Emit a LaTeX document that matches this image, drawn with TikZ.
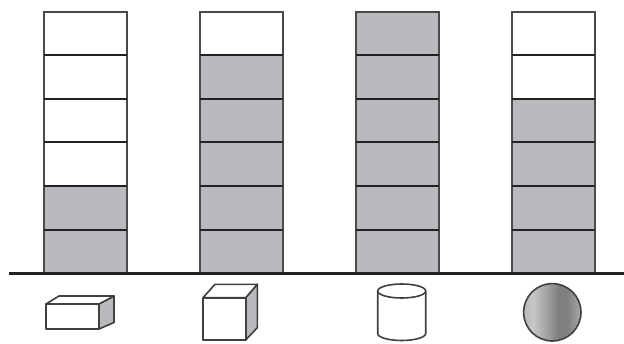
\documentclass[tikz,border=0pt]{standalone}
\definecolor{cellgrey}{HTML}{B9BABD}
\definecolor{edgedark}{HTML}{222222}
\definecolor{edgeside}{HTML}{4A4A4A}
\definecolor{shapeedge}{HTML}{404040}
\pgfdeclarehorizontalshading{ballshade}{100bp}{
  color(0bp)=(white!72!black);
  color(25bp)=(white!72!black);
  color(33bp)=(white!78!black);
  color(44bp)=(white!65!black);
  color(55bp)=(white!50!black);
  color(63bp)=(white!50!black);
  color(75bp)=(white!66!black);
  color(100bp)=(white!66!black)}
\tikzset{
  fullcell/.style={fill=cellgrey},
  sideline/.style={draw=edgeside,line width=1.7pt},
  rowline/.style={draw=edgedark,line width=1.9pt},
  groundline/.style={draw=edgedark,line width=2.2pt},
  solidedge/.style={draw=shapeedge,line width=1.6pt,line join=round},
}
\newcommand{\stackcol}[2]{% left x, number of filled cells
  \foreach \r [count=\i from 0] in {230,186,142,99,55,12}{
    \ifnum\i<#2\relax
      \fill[fullcell] (#1,\r) rectangle ({#1+83},{\r+44});
    \fi
  }
  \draw[sideline] (#1,12) -- (#1,273);
  \draw[sideline] ({#1+83},12) -- ({#1+83},273);
  \draw[sideline] ({#1-0.8},12) -- ({#1+83.8},12);
  \foreach \r in {55,99,142,186,230}{
    \draw[rowline] (#1,\r) -- ({#1+83},\r);
  }
}
\begin{document}
\begin{tikzpicture}[x=1pt,y=-1pt]
\useasboundingbox (0,0) rectangle (624,343);
\stackcol{44}{2}
\stackcol{200}{5}
\stackcol{356}{6}
\stackcol{512}{4}
\draw[groundline] (9,273.5) -- (624,273.5);
% flat box
\filldraw[solidedge,fill=cellgrey] (99,304) -- (114,296) -- (114,322.5) -- (99,329) -- cycle;
\filldraw[solidedge,fill=white] (46,304) -- (59,296) -- (114,296) -- (99,304) -- cycle;
\filldraw[solidedge,fill=white] (46,304) rectangle (99,329);
% cube
\filldraw[solidedge,fill=cellgrey] (245.7,297.7) -- (257.3,284.3) -- (257.3,327.7) -- (245.7,340) -- cycle;
\filldraw[solidedge,fill=white] (203,297.7) -- (215,284.3) -- (257.3,284.3) -- (245.7,297.7) -- cycle;
\filldraw[solidedge,fill=white] (203,297.7) rectangle (245.7,340);
% cylinder
\filldraw[solidedge,fill=white] (377.7,291) -- (377.7,333.5) arc[start angle=180,end angle=360,x radius=24,y radius=-7] -- (425.7,291);
\filldraw[solidedge,fill=white] (401.7,291) ellipse[x radius=24,y radius=7];
% ball
\shade[shading=ballshade] (552.3,312.3) circle[radius=28.7];
\draw[solidedge] (552.3,312.3) circle[radius=28.7];
\end{tikzpicture}
\end{document}
